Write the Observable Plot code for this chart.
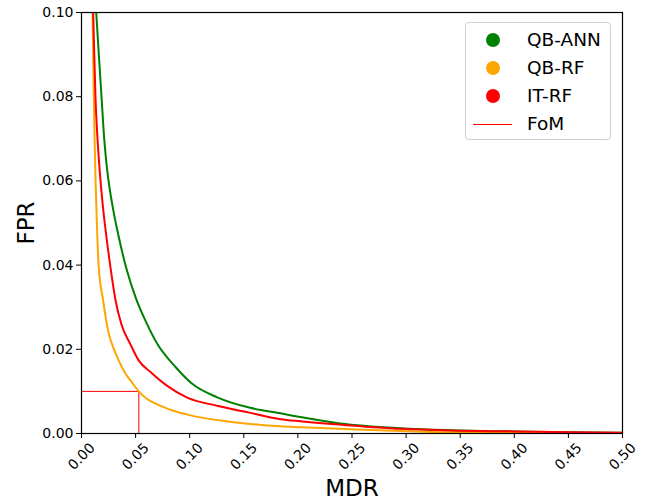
<!DOCTYPE html>
<html>
<head>
<meta charset="utf-8">
<script src="https://cdn.jsdelivr.net/npm/d3@7"></script>
<script src="https://cdn.jsdelivr.net/npm/@observablehq/plot@0.6"></script>
<style>
  html, body { margin: 0; padding: 0; background: #fff; }
  #wrap { position: relative; width: 646px; height: 499px; font-family: "DejaVu Sans", sans-serif; }
  #wrap svg { position: absolute; left: 0; top: 0; font-family: "DejaVu Sans", sans-serif; }
  #wrap g[aria-label="y-axis label"] text, #wrap g[aria-label="x-axis label"] text { font-size: 23px; fill: #000; }
  #legend { position: absolute; left: 465px; top: 22px; width: 146px; height: 118px; border: 1px solid #d0d0d0; border-radius: 4px; background: rgba(255,255,255,0.85); box-sizing: border-box; }
  .item { position: absolute; left: 0; height: 20px; width: 100%; }
  .sym { position: absolute; }
  .lab { position: absolute; left: 61px; top: 0; font-size: 18.5px; line-height: 20px; color: #000; }
</style>
</head>
<body>
<div id="wrap"></div>
<script>
// ---- data ----
const models = ["QB-ANN", "QB-RF", "IT-RF"];
const colors = ["green", "orange", "red"];

const annMDR = [0.0120, 0.0136, 0.0160, 0.0185, 0.0210, 0.0240, 0.0283, 0.0345, 0.0420, 0.0505, 0.0591, 0.0700, 0.0869, 0.1023, 0.1254, 0.1560, 0.1840, 0.2024, 0.2390, 0.2950, 0.3410, 0.4000, 0.4500, 0.5000];
const annFPR = [0.1060, 0.1000, 0.0900, 0.0800, 0.0700, 0.0620, 0.0546, 0.0466, 0.0387, 0.0320, 0.0268, 0.0213, 0.0158, 0.0118, 0.0086, 0.0061, 0.0048, 0.0039, 0.0024, 0.00126, 0.0008, 0.0005, 0.0003, 0.0002];

const rfMDR = [0.0098, 0.0102, 0.0108, 0.0114, 0.0121, 0.0130, 0.0142, 0.0158, 0.0200, 0.0245, 0.0300, 0.0350, 0.0400, 0.0453, 0.0530, 0.0600, 0.0700, 0.0850, 0.1007, 0.1408, 0.1840, 0.2024, 0.2486, 0.2950, 0.3410, 0.4000, 0.4500, 0.5000];
const rfFPR = [0.1060, 0.1000, 0.0900, 0.0800, 0.0700, 0.0600, 0.0500, 0.0400, 0.0316, 0.0245, 0.0200, 0.0170, 0.0145, 0.0126, 0.0100, 0.0083, 0.0069, 0.0054, 0.0043, 0.0027, 0.0017, 0.0015, 0.0010, 0.0006, 0.0003, 0.0002, 0.0001, 0.0001];

const itMDR = [0.0100, 0.0108, 0.0118, 0.0129, 0.0148, 0.0168, 0.0195, 0.0231, 0.0272, 0.0315, 0.0368, 0.0450, 0.0530, 0.0638, 0.0792, 0.0977, 0.1254, 0.1560, 0.1840, 0.2024, 0.2486, 0.2950, 0.3410, 0.4000, 0.4500, 0.5000];
const itFPR = [0.1060, 0.1000, 0.0900, 0.0800, 0.0700, 0.0625, 0.0546, 0.0466, 0.0387, 0.0316, 0.0260, 0.0213, 0.0173, 0.0146, 0.0113, 0.0085, 0.0066, 0.0049, 0.0034, 0.0029, 0.0019, 0.0011, 0.0007, 0.0005, 0.0003, 0.0002];

const fomMDR = 0.053;
const fomFPR = 0.01;

const xTicks = [0, 0.05, 0.10, 0.15, 0.20, 0.25, 0.30, 0.35, 0.40, 0.45, 0.50];
const yTicks = [0, 0.02, 0.04, 0.06, 0.08, 0.10];

const toRows = (xs, ys) => xs.map((x, i) => ({mdr: x, fpr: ys[i]}));
const series = [toRows(annMDR, annFPR), toRows(rfMDR, rfFPR), toRows(itMDR, itFPR)];

const chart = Plot.plot({
  width: 646,
  height: 499,
  marginLeft: 81,
  marginRight: 24,
  marginTop: 12,
  marginBottom: 66,
  style: {fontFamily: "DejaVu Sans, sans-serif", fontSize: "14px", color: "#000", background: "#fff"},
  x: {domain: [0, 0.5]},
  y: {domain: [0, 0.1]},
  marks: [
    Plot.ruleY([fomFPR], {x1: 0, x2: fomMDR, stroke: "red", strokeWidth: 1}),
    Plot.ruleX([fomMDR], {y1: 0, y2: fomFPR, stroke: "red", strokeWidth: 1}),
    ...series.map((rows, i) => Plot.line(rows, {x: "mdr", y: "fpr", stroke: colors[i], strokeWidth: 2, curve: "monotone-x", clip: true})),
    Plot.frame({stroke: "#000", strokeWidth: 1.2}),
    Plot.axisY({ticks: yTicks, tickFormat: d => d.toFixed(2), tickSize: 5, tickPadding: 3, fontSize: 14,
      label: "FPR", labelAnchor: "center", labelArrow: "none", labelOffset: 64}),
    Plot.axisX({ticks: xTicks, tickFormat: () => "", tickSize: 5,
      label: "MDR", labelAnchor: "center", labelArrow: "none", labelOffset: 62}),
    Plot.text(xTicks, {x: d => d, frameAnchor: "bottom", dy: 23, rotate: -45, text: d => d.toFixed(2),
      textAnchor: "middle", lineAnchor: "middle", fontSize: 14, fill: "#000"})
  ]
});

const wrap = document.getElementById("wrap");
wrap.appendChild(chart);

// legend
const legend = document.createElement("div");
legend.id = "legend";
const entries = models.map((m, i) => ({label: m, color: colors[i], kind: "dot"}));
entries.push({label: "FoM", color: "red", kind: "line"});
const rowTops = [7, 35, 63, 91];
entries.forEach((e, i) => {
  const it = document.createElement("div");
  it.className = "item";
  it.style.top = rowTops[i] + "px";
  const s = document.createElement("div");
  s.className = "sym";
  if (e.kind === "dot") {
    s.style.cssText = `left:20px;top:3px;width:14px;height:14px;border-radius:50%;background:${e.color};`;
  } else {
    s.style.cssText = `left:7px;top:9.5px;width:39px;height:1px;background:${e.color};`;
  }
  const l = document.createElement("div");
  l.className = "lab";
  l.textContent = e.label;
  it.appendChild(s);
  it.appendChild(l);
  legend.appendChild(it);
});
wrap.appendChild(legend);
</script>
</body>
</html>
